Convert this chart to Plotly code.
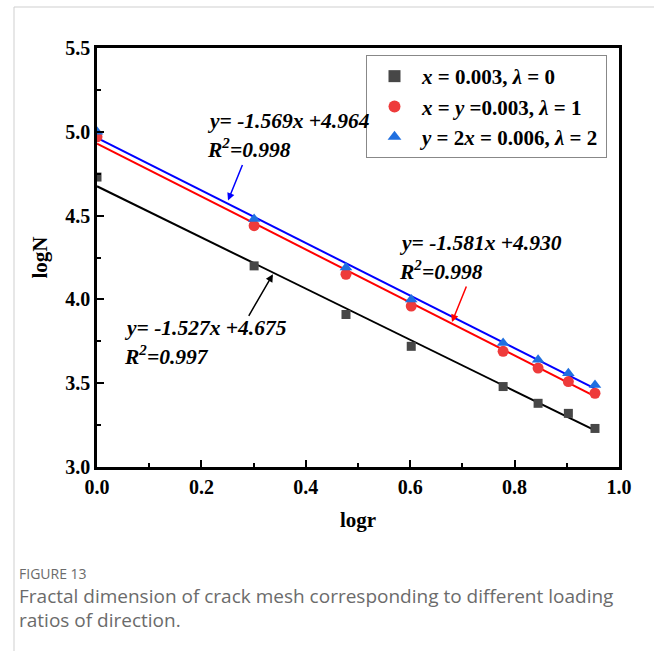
import plotly.graph_objects as go

logr = [0.0, 0.301, 0.477, 0.602, 0.778, 0.845, 0.903, 0.954]
logN_l0 = [4.73, 4.20, 3.91, 3.72, 3.48, 3.38, 3.32, 3.23]
logN_l1 = [4.97, 4.44, 4.15, 3.96, 3.69, 3.59, 3.51, 3.44]
logN_l2 = [5.00, 4.48, 4.19, 4.00, 3.74, 3.64, 3.56, 3.49]

fits = [(-1.527, 4.675), (-1.581, 4.930), (-1.569, 4.964)]
names = ["<b><i>x</i> = 0.003, <i>λ</i> = 0</b>",
         "<b><i>x</i> = <i>y</i> =0.003, <i>λ</i> = 1</b>",
         "<b><i>y</i> = 2<i>x</i> = 0.006, <i>λ</i> = 2</b>"]
mcolors = ["#474747", "#ee3b3b", "#1f6fe0"]
lcolors = ["#000000", "#ff0000", "#0000ff"]
symbols = ["square", "circle", "triangle-up"]
msizes = [9, 11, 11]
series = [logN_l0, logN_l1, logN_l2]

SERIF = "Liberation Serif"
fig = go.Figure()

xfit = [logr[0], logr[-1]]
for (k, b), c in zip(fits, lcolors):
    fig.add_trace(go.Scatter(x=xfit, y=[k * xv + b for xv in xfit], mode="lines",
                             line=dict(color=c, width=2), showlegend=False, hoverinfo="skip"))

for ys, n, mc, s, ms in zip(series, names, mcolors, symbols, msizes):
    fig.add_trace(go.Scatter(x=logr, y=ys, mode="markers", name=n,
                             marker=dict(symbol=s, color=mc, size=ms, line=dict(width=0))))

# px -> paper helpers
L, R, T, B = 97, 619, 48, 467
def px(x):
    return (x - L) / (R - L)
def py(y):
    return (B - y) / (B - T)

ann_font = dict(family=SERIF, size=21.5, color="black")
eqs = [
    ("<b><i>y= -1.569x +4.964</i></b>", "<b><i>R<sup>2</sup>=0.998</i></b>", 0.207, 5.064, 4.903),
    ("<b><i>y= -1.581x +4.930</i></b>", "<b><i>R<sup>2</sup>=0.998</i></b>", 0.575, 4.337, 4.175),
    ("<b><i>y= -1.527x +4.675</i></b>", "<b><i>R<sup>2</sup>=0.997</i></b>", 0.048, 3.829, 3.668),
]
annotations = []
for t1, t2, x0, y1, y2 in eqs:
    annotations.append(dict(x=x0, y=y1, xref="x", yref="y", text=t1, showarrow=False,
                            xanchor="left", yanchor="middle", font=ann_font))
    annotations.append(dict(x=x0, y=y2, xref="x", yref="y", text=t2, showarrow=False,
                            xanchor="left", yanchor="middle", font=ann_font))

arrows = [
    (0.251, 4.59, 15, -37, "#0000ff"),
    (0.680, 3.865, 15, -37, "#ff0000"),
    (0.337, 4.15, -25, 43, "#000000"),
]
for x, y, ax, ay, c in arrows:
    annotations.append(dict(x=x, y=y, xref="x", yref="y", ax=ax, ay=ay, text="",
                            showarrow=True, arrowhead=2, arrowsize=1, arrowwidth=1.5,
                            arrowcolor=c))

cap_color = "#6b6b6b"
annotations += [
    dict(x=px(17), y=py(573), xref="paper", yref="paper", text="FIGURE 13", showarrow=False,
         xanchor="left", yanchor="middle", font=dict(family="Open Sans", size=14, color=cap_color)),
    dict(x=px(17), y=py(596), xref="paper", yref="paper",
         text="Fractal dimension of crack mesh corresponding to different loading",
         showarrow=False, xanchor="left", yanchor="middle",
         font=dict(family="Open Sans", size=19, color=cap_color)),
    dict(x=px(17), y=py(620), xref="paper", yref="paper", text="ratios of direction.",
         showarrow=False, xanchor="left", yanchor="middle",
         font=dict(family="Open Sans", size=19, color=cap_color)),
]

shapes = [
    dict(type="line", xref="paper", yref="paper", x0=px(14), x1=px(14), y0=py(7), y1=py(651),
         line=dict(color="#cfcfcf", width=1)),
    dict(type="line", xref="paper", yref="paper", x0=px(14), x1=px(654), y0=py(7), y1=py(7),
         line=dict(color="#cfcfcf", width=1)),
]

axis_common = dict(showgrid=False, zeroline=False, showline=True, linecolor="black", linewidth=2.5,
                   mirror=True, ticks="inside", ticklen=7, tickwidth=2, tickcolor="black",
                   tickfont=dict(family=SERIF, size=20, color="black"))

fig.update_layout(
    width=654, height=651,
    margin=dict(l=L, r=654 - R, t=T, b=651 - B),
    paper_bgcolor="white", plot_bgcolor="white",
    xaxis=dict(range=[0, 1.0], tickvals=[0, 0.2, 0.4, 0.6, 0.8, 1.0],
               ticktext=["<b>0.0</b>", "<b>0.2</b>", "<b>0.4</b>", "<b>0.6</b>", "<b>0.8</b>", "<b>1.0</b>"],
               minor=dict(dtick=0.1, ticks="inside", ticklen=4, tickwidth=2, tickcolor="black"),
               title=dict(text="<b>logr</b>", font=dict(family=SERIF, size=21, color="black"), standoff=16),
               **axis_common),
    yaxis=dict(range=[3.0, 5.5], tickvals=[3.0, 3.5, 4.0, 4.5, 5.0, 5.5],
               ticktext=["<b>3.0</b>", "<b>3.5</b>", "<b>4.0</b>", "<b>4.5</b>", "<b>5.0</b>", "<b>5.5</b>"],
               minor=dict(dtick=0.25, ticks="inside", ticklen=4, tickwidth=2, tickcolor="black"),
               title=dict(text="<b>logN</b>", font=dict(family=SERIF, size=21, color="black"), standoff=12),
               **axis_common),
    legend=dict(x=px(366), y=py(55), xanchor="left", yanchor="top",
                bordercolor="#888888", borderwidth=1, bgcolor="white",
                font=dict(family=SERIF, size=21, color="black"),
                tracegroupgap=0, itemsizing="constant", itemwidth=45),
    annotations=annotations,
    shapes=shapes,
)

fig.write_html("out.html")
